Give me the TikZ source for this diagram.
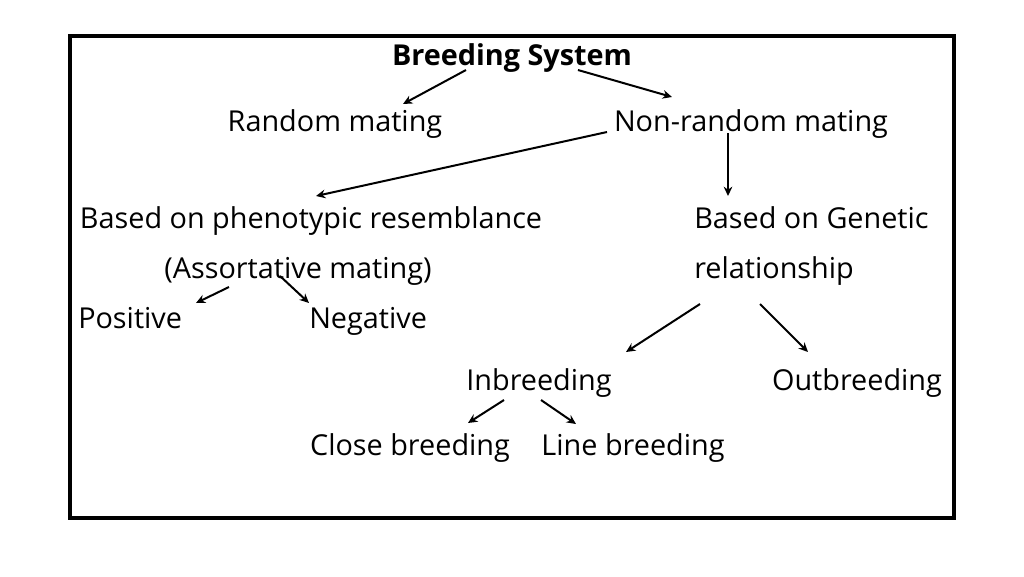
\documentclass[tikz,border=0pt]{standalone}
\usepackage{fontspec}
\setmainfont{Open Sans}
\usetikzlibrary{arrows.meta}
\begin{document}
\begin{tikzpicture}[x=0.75pt,y=-0.75pt,
  lbl/.style={inner sep=0pt,anchor=base,font=\fontsize{21.6}{25}\selectfont},
  arr/.style={line width=1.5pt,-{Stealth[length=7pt,width=6.5pt]}},
  frame/.style={line width=2.3pt}]
\useasboundingbox (0,0) rectangle (1024,576);
\draw[frame] (70,36) rectangle (954,518);
\node[lbl,font=\fontsize{21.6}{25}\selectfont\bfseries] (bs) at (512,65) {Breeding System};
\node[lbl] (rm) at (335,131) {Random mating};
\node[lbl] (nrm) at (751,131) {Non-random mating};
\node[lbl] (ph) at (311,228) {Based on phenotypic resemblance};
\node[lbl] (as) at (298,278) {(Assortative mating)};
\node[lbl,anchor=base west] (ge) at (694,228) {Based on Genetic};
\node[lbl,anchor=base west] (rel) at (694,278) {relationship};
\node[lbl,anchor=base west] (pos) at (78,328) {Positive};
\node[lbl,anchor=base west] (neg) at (309,328) {Negative};
\node[lbl] (inb) at (539,390) {Inbreeding};
\node[lbl] (outb) at (857,390) {Outbreeding};
\node[lbl] (cb) at (410,455) {Close breeding};
\node[lbl] (lb) at (633,455) {Line breeding};
% connector end points
\coordinate (bs1) at (466,70);  \coordinate (rm1) at (403,104);
\coordinate (bs2) at (578,70);  \coordinate (nrm1) at (672,97);
\coordinate (nrm2) at (607,132); \coordinate (ph1) at (316,196);
\coordinate (nrm3) at (728,133); \coordinate (ge1) at (728,196);
\coordinate (as1) at (229,287); \coordinate (pos1) at (196,303);
\coordinate (as2) at (280,276); \coordinate (neg1) at (309,303);
\coordinate (rel1) at (700,304); \coordinate (inb1) at (626,352);
\coordinate (rel2) at (760,304); \coordinate (outb1) at (808,352);
\coordinate (inb2) at (504,400); \coordinate (cb1) at (468,423);
\coordinate (inb3) at (541,400); \coordinate (lb1) at (576,424);
\draw[arr] (bs1) -- (rm1);
\draw[arr] (bs2) -- (nrm1);
\draw[arr] (nrm2) -- (ph1);
\draw[arr] (nrm3) -- (ge1);
\draw[arr] (as1) -- (pos1);
\draw[arr] (as2) -- (neg1);
\draw[arr] (rel1) -- (inb1);
\draw[arr] (rel2) -- (outb1);
\draw[arr] (inb2) -- (cb1);
\draw[arr] (inb3) -- (lb1);
\end{tikzpicture}
\end{document}
